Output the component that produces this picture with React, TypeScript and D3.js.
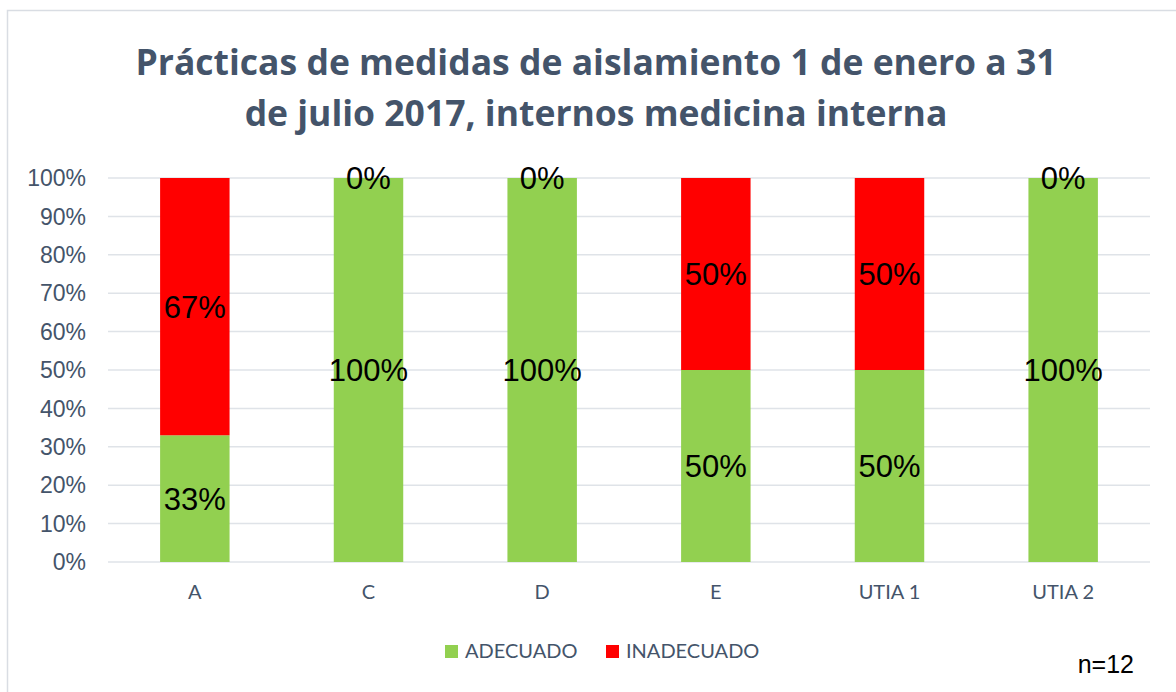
import React from "react";
import * as d3 from "d3";

const categories = ["A", "C", "D", "E", "UTIA 1", "UTIA 2"];
const adecuado = [0.33, 1, 1, 0.5, 0.5, 1];
const inadecuado = [0.67, 0, 0, 0.5, 0.5, 0];
const seriesNames = ["ADECUADO", "INADECUADO"];
const seriesColors = ["#92d050", "#ff0000"];
const yTicks = [0, 0.1, 0.2, 0.3, 0.4, 0.5, 0.6, 0.7, 0.8, 0.9, 1];
const titleLines = [
  "Prácticas de medidas de aislamiento 1 de enero a 31",
  "de julio 2017, internos medicina interna",
];

const W = 1176;
const H = 692;
const plot = { left: 108, right: 1150, top: 178, bottom: 562 };
const slate = "#44546a";
const grid = "#dfe3e8";

export default function App() {
  const x = d3
    .scaleBand()
    .domain(categories)
    .range([plot.left, plot.right])
    .paddingInner(0.6)
    .paddingOuter(0.3);
  const y = d3.scaleLinear().domain([0, 1]).range([plot.bottom, plot.top]);
  const pct = d3.format(".0%");

  // stack the two series
  const rows = categories.map((c, i) => ({ cat: c, ADECUADO: adecuado[i], INADECUADO: inadecuado[i] }));
  const stacked = d3.stack<any>().keys(seriesNames)(rows);

  return (
    <svg width={W} height={H} style={{ position: "absolute", left: 0, top: 0 }}>
      <rect x={0} y={0} width={W} height={H} fill="#fff" />
      <rect x={7.5} y={10.5} width={W + 10} height={H + 10} fill="none" stroke="#d9dde3" strokeWidth={1.5} />

      {/* title */}
      <text
        x={596}
        textAnchor="middle"
        fontFamily="'Open Sans', Lato, sans-serif"
        fontWeight="bold"
        fontSize={35.5}
        fill={slate}
      >
        {titleLines.map((t, i) => (
          <tspan key={i} x={596} y={75 + i * 51}>
            {t}
          </tspan>
        ))}
      </text>

      {/* gridlines + y labels */}
      {yTicks.map((t) => (
        <g key={t}>
          <line x1={plot.left} x2={plot.right} y1={y(t)} y2={y(t)} stroke={grid} strokeWidth={1.5} />
          <text
            x={86}
            y={y(t)}
            dy="0.36em"
            textAnchor="end"
            fontFamily="'Liberation Sans', Arial, sans-serif"
            fontSize={23}
            fill={slate}
          >
            {pct(t)}
          </text>
        </g>
      ))}

      {/* bars */}
      {stacked.map((s, si) =>
        s.map((d, i) => (
          <rect
            key={si + "-" + i}
            x={x(categories[i])}
            width={x.bandwidth()}
            y={y(d[1])}
            height={y(d[0]) - y(d[1])}
            fill={seriesColors[si]}
          />
        ))
      )}

      {/* data labels */}
      {stacked.map((s, si) =>
        s.map((d, i) => (
          <text
            key={"l" + si + "-" + i}
            x={(x(categories[i]) as number) + x.bandwidth() / 2}
            y={y((d[0] + d[1]) / 2)}
            dy="0.36em"
            textAnchor="middle"
            fontFamily="'Liberation Sans', Arial, sans-serif"
            fontSize={31}
            fill="#000"
          >
            {pct(d[1] - d[0])}
          </text>
        ))
      )}

      {/* x labels */}
      {categories.map((c) => (
        <text
          key={c}
          x={(x(c) as number) + x.bandwidth() / 2}
          y={599}
          textAnchor="middle"
          fontFamily="Lato, 'Open Sans', sans-serif"
          fontSize={20}
          fill={slate}
        >
          {c}
        </text>
      ))}

      {/* legend */}
      {seriesNames.map((n, i) => {
        const lx = [445, 606][i];
        return (
          <g key={n}>
            <rect x={lx} y={645} width={13} height={13} fill={seriesColors[i]} />
            <text x={lx + 20} y={658} fontFamily="Lato, 'Open Sans', sans-serif" fontSize={20} fill={slate}>
              {n}
            </text>
          </g>
        );
      })}

      <text x={1134} y={673} textAnchor="end" fontFamily="'Liberation Sans', Arial, sans-serif" fontSize={25} fill="#000">
        n=12
      </text>
    </svg>
  );
}
